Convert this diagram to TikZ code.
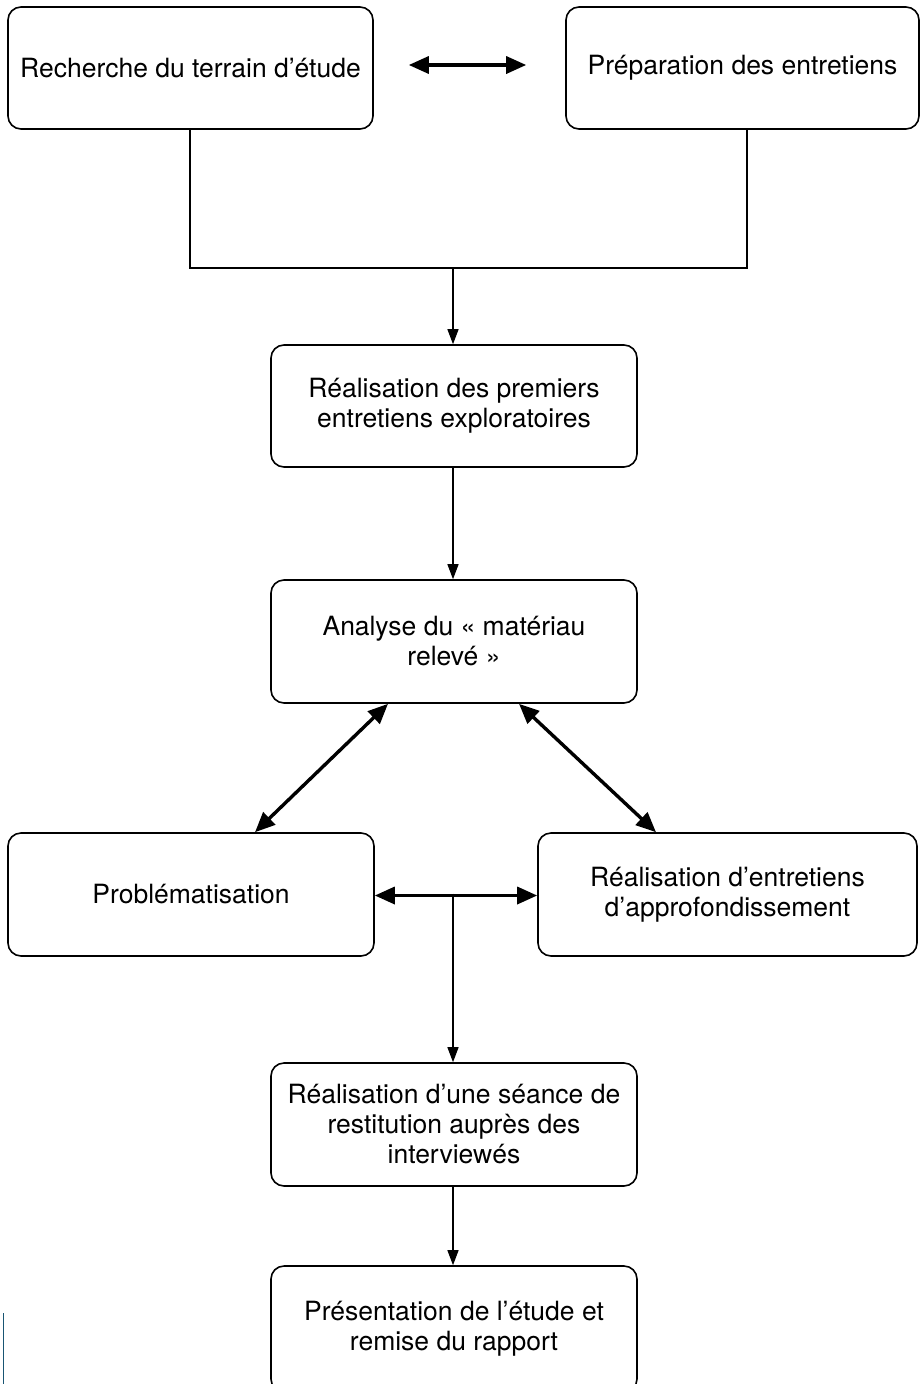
\documentclass[tikz,border=0pt]{standalone}
\usepackage{fontspec}
\setmainfont{TeX Gyre Heros}
\usetikzlibrary{arrows.meta,calc}
\begin{document}
\begin{tikzpicture}[x=1pt,y=-1pt,
  box/.style={draw=black, line width=1.6pt, rounded corners=13pt, inner sep=0pt,
    align=center, font=\fontsize{26.5}{30}\selectfont, text=black},
  thin/.style={draw=black, line width=1.3pt},
  thinarrow/.style={thin, -{Triangle[length=15pt,width=11pt]}},
  thickarrow/.style={draw=black, line width=3.4pt, {Triangle[length=20pt,width=17pt]}-{Triangle[length=20pt,width=17pt]}, shorten <=0pt, shorten >=0pt}]
\useasboundingbox (0,0) rectangle (921,1384);
\fill[white] (0,0) rectangle (921,1384);

\node[box, minimum width=365pt, minimum height=122pt] (A) at (190.5,68) {Recherche du terrain d’étude};
\node[box, minimum width=353pt, minimum height=122pt] (B) at (742.5,68) {Préparation des entretiens};
\node[box, minimum width=366pt, minimum height=122pt] (C) at (454,406) {Réalisation des premiers\\entretiens exploratoires};
\node[box, minimum width=366pt, minimum height=123pt] (D) at (454,641.5) {Analyse du « matériau\\relevé »};
\node[box, minimum width=366pt, minimum height=123pt] (E) at (191,894.5) {Problématisation};
\node[box, minimum width=379pt, minimum height=123pt] (F) at (727.5,894.5) {Réalisation d’entretiens\\d’approfondissement};
\node[box, minimum width=366pt, minimum height=123pt] (G) at (454,1124.5) {Réalisation d’une séance de\\restitution auprès des\\interviewés};
\node[box, minimum width=366pt, minimum height=126pt] (H) at (454,1329) {Présentation de l’étude et\\remise du rapport};

% top double arrow
\draw[thickarrow] ([xshift=35pt,yshift=3pt]A.east) -- ([xshift=-39pt,yshift=3pt]B.west);

% join of A and B
\coordinate (J) at (453,268);
\draw[thin] ([xshift=-0.5pt]A.south) |- (J) -| ([xshift=4.5pt]B.south);
\draw[thinarrow] (J) -- (J |- C.north);
\draw[thinarrow] (C.south -| J) -- (D.north -| J);

% diagonal double arrows
\draw[thickarrow] ([xshift=-66pt]D.south) -- ([xshift=64pt]E.north);
\draw[thickarrow] ([xshift=65pt]D.south) -- ([xshift=-71.5pt]F.north);

% E <-> F
\draw[thickarrow] ([yshift=-1pt]E.east) -- ([yshift=-1pt]F.west);
\coordinate (K) at (453,893.5);
\draw[thinarrow] (K) -- (K |- G.north);
\draw[thinarrow] (G.south -| K) -- (H.north -| K);

% small edge mark at bottom left
\draw[draw={rgb,255:red,25;green,85;blue,115}, line width=1pt] (3,1313) -- (3,1384);
\end{tikzpicture}
\end{document}
